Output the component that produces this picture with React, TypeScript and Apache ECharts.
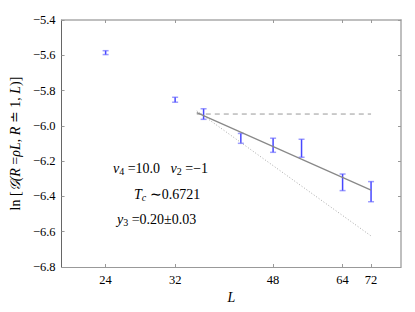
import React, { useEffect, useRef } from "react";
import * as echarts from "echarts";

const Ls = [24, 32, 36, 42, 48, 54, 64, 72];
const values = [-5.585, -5.852, -5.933, -6.071, -6.11, -6.127, -6.32, -6.373];
const errors = [0.011, 0.014, 0.03, 0.028, 0.04, 0.051, 0.047, 0.057];
const tickLs = [24, 32, 48, 64, 72];
const lineLs = [35, 72];
const fitValues = [-5.925, -6.364];
const dottedValues = [-5.915, -6.624];
const dashedValues = [-5.933, -5.933];
const xMinL = 20;
const xMaxL = 81.5;

const SERIF = "Liberation Serif";

export default function App() {
  const ref = useRef<HTMLDivElement>(null);
  useEffect(() => {
    const chart = echarts.init(ref.current!, null, { renderer: "svg" });
    const lx = (L: number) => Math.log(L);
    const tickVals = tickLs.map(lx);
    const lineData = (vals: number[]) => lineLs.map((L, i) => [lx(L), vals[i]]);
    const fmtY = (v: number) => (v < 0 ? "\u2212" : "") + Math.abs(v).toFixed(1);
    const labelStyle = { fontFamily: SERIF, fontSize: 12.5, color: "#000" };
    const errColor = "rgba(40,40,255,0.85)";
    const it = { fontFamily: SERIF, fontSize: 14, fontStyle: "italic", fill: "#000", color: "#000" };
    const rm = { fontFamily: SERIF, fontSize: 14, fill: "#000", color: "#000" };
    const sub = { fontFamily: SERIF, fontSize: 10, fill: "#000", color: "#000", padding: [7, 0, 0, 0] };
    const subI = { ...sub, fontStyle: "italic" };
    const option: any = {
      animation: false,
      grid: { left: 60, top: 20, right: 14, bottom: 45 },
      xAxis: [
        {
          type: "value",
          min: lx(xMinL),
          max: lx(xMaxL),
          position: "bottom",
          axisLine: { lineStyle: { color: "#999", width: 1 } },
          axisTick: { inside: true, length: 3, customValues: tickVals, lineStyle: { color: "#999" } },
          axisLabel: {
            ...labelStyle,
            margin: 6,
            customValues: tickVals,
            formatter: (v: number) => String(Math.round(Math.exp(v))),
          },
          splitLine: { show: false },
          name: "L",
          nameLocation: "middle",
          nameGap: 22,
          nameTextStyle: { fontFamily: SERIF, fontSize: 14, fontStyle: "italic", color: "#000" },
        },
        {
          type: "value",
          min: lx(xMinL),
          max: lx(xMaxL),
          position: "top",
          axisLine: { lineStyle: { color: "#aaa", width: 1.5 } },
          axisTick: { inside: true, length: 3, customValues: tickVals, lineStyle: { color: "#999" } },
          axisLabel: { show: false },
          splitLine: { show: false },
        },
      ],
      yAxis: [
        {
          type: "value",
          min: -6.8,
          max: -5.4,
          interval: 0.2,
          position: "left",
          axisLine: { show: true, lineStyle: { color: "#666", width: 1 } },
          axisTick: { show: true, inside: true, length: 3, lineStyle: { color: "#999" } },
          axisLabel: { ...labelStyle, margin: 6, formatter: fmtY },
          splitLine: { show: false },
          name: "{r|ln [}{i|\u{1D4A2}(R}{r| =}{i|\u03C1L, R}{r| \u2250 1, }{i|L}{r|)]}",
          nameLocation: "middle",
          nameGap: 31,
          nameRotate: 90,
          nameTextStyle: {
            fontFamily: SERIF,
            fontSize: 14,
            color: "#000",
            rich: {
              r: { fontFamily: SERIF, fontSize: 14, color: "#000" },
              i: { fontFamily: SERIF, fontSize: 14, fontStyle: "italic", color: "#000" },
            },
          },
        },
        {
          type: "value",
          min: -6.8,
          max: -5.4,
          interval: 0.2,
          position: "right",
          axisLine: { show: true, lineStyle: { color: "#aaa", width: 1.5 } },
          axisTick: { show: true, inside: true, length: 3, lineStyle: { color: "#999" } },
          axisLabel: { show: false },
          splitLine: { show: false },
        },
      ],
      series: [
        {
          type: "line",
          data: lineData(dashedValues),
          symbol: "none",
          lineStyle: { color: "#999", width: 1, type: [5, 4] },
          silent: true,
        },
        {
          type: "line",
          data: lineData(dottedValues),
          symbol: "none",
          lineStyle: { color: "#aaa", width: 1, type: [1, 2] },
          silent: true,
        },
        {
          type: "line",
          data: lineData(fitValues),
          symbol: "none",
          lineStyle: { color: "#888", width: 1.2 },
          silent: true,
        },
        {
          type: "custom",
          data: Ls.map((L, i) => [lx(L), values[i], errors[i]]),
          encode: { x: 0, y: 1 },
          renderItem: (_p: any, api: any) => {
            const x = api.value(0);
            const y = api.value(1);
            const e = api.value(2);
            const t = api.coord([x, y + e]);
            const b = api.coord([x, y - e]);
            const w = 3;
            const st = { stroke: errColor, lineWidth: 1.5 };
            const capSt = { stroke: "rgba(90,90,255,0.6)", lineWidth: 1.5 };
            return {
              type: "group",
              children: [
                { type: "line", shape: { x1: t[0], y1: t[1], x2: b[0], y2: b[1] }, style: st },
                { type: "line", shape: { x1: t[0] - w, y1: t[1], x2: t[0] + w, y2: t[1] }, style: capSt },
                { type: "line", shape: { x1: b[0] - w, y1: b[1], x2: b[0] + w, y2: b[1] }, style: capSt },
              ],
            };
          },
        },
      ],
      graphic: [
        {
          type: "text",
          left: 113,
          top: 161,
          style: {
            text: "{i|v}{s|4}{n| =10.0   }{i|v}{s|2}{n| =\u22121}",
            rich: { i: it, s: sub, n: rm },
          },
        },
        {
          type: "text",
          left: 134,
          top: 187,
          style: {
            text: "{i|T}{s|c}{n| \u223C0.6721}",
            rich: { i: it, s: subI, n: rm },
          },
        },
        {
          type: "text",
          left: 117,
          top: 212,
          style: {
            text: "{i|y}{s|3}{n| =0.20\u00B10.03}",
            rich: { i: it, s: sub, n: rm },
          },
        },
      ],
    };
    chart.setOption(option);
    return () => chart.dispose();
  }, []);
  return <div ref={ref} style={{ width: 415, height: 312, position: "absolute", left: 0, top: 0 }} />;
}
